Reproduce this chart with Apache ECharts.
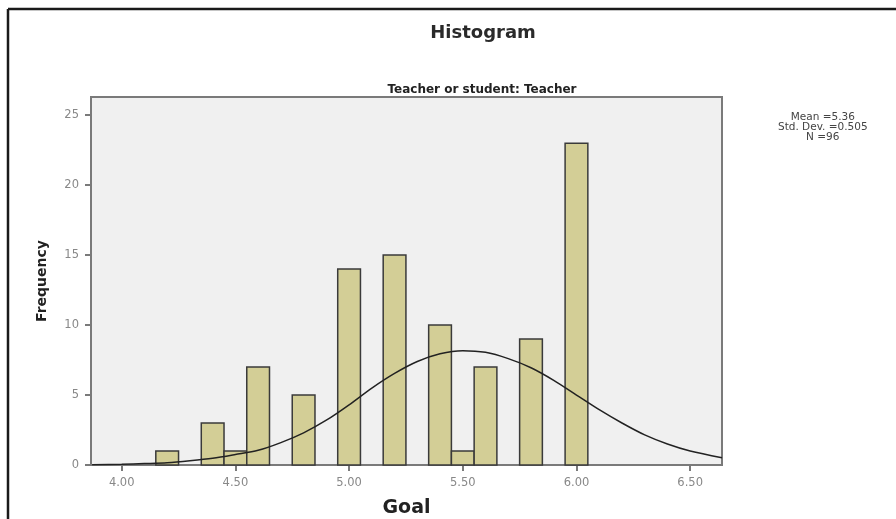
<!DOCTYPE html>
<html>
<head>
<meta charset="utf-8">
<script src="https://cdn.jsdelivr.net/npm/echarts@6/dist/echarts.min.js"></script>
<style>html,body{margin:0;padding:0;background:#fff}#c{width:896px;height:519px}</style>
</head>
<body>
<div id="c"></div>
<script>
// Histogram bins (bin centre on Goal axis) and frequencies
const binCenters = [4.2, 4.4, 4.5, 4.6, 4.8, 5.0, 5.2, 5.4, 5.5, 5.6, 5.8, 6.0];
const frequencies = [1, 3, 1, 7, 5, 14, 15, 10, 1, 7, 9, 23];
const binWidth = 0.1;
// Normal curve
const curveX = [3.87, 4.0, 4.1, 4.2, 4.3, 4.4, 4.5, 4.6, 4.7, 4.8, 4.9, 5.0, 5.1, 5.2, 5.3, 5.4, 5.5, 5.6, 5.7, 5.8, 5.9, 6.0, 6.1, 6.2, 6.3, 6.4, 6.5, 6.64];
const curveY = [0.02, 0.05, 0.1, 0.16, 0.3, 0.48, 0.75, 1.05, 1.6, 2.3, 3.2, 4.3, 5.5, 6.55, 7.4, 7.95, 8.17, 8.05, 7.6, 6.95, 6.05, 5.0, 3.95, 3.0, 2.15, 1.5, 1.0, 0.52];
const xTicks = [4.0, 4.5, 5.0, 5.5, 6.0, 6.5];
const yTicks = [0, 5, 10, 15, 20, 25];
const statsLines = ['Mean =5.36', 'Std. Dev. =0.505', 'N =96'];

const FONT = 'DejaVu Sans';
const chart = echarts.init(document.getElementById('c'), null, {renderer: 'canvas'});
const barData = binCenters.map((x, i) => [x, frequencies[i]]);
const curveData = curveX.map((x, i) => [x, curveY[i]]);

chart.setOption({
  animation: false,
  backgroundColor: '#ffffff',
  title: [
    {text: 'Histogram', left: 478, top: 19, textAlign: 'center',
     textStyle: {fontFamily: FONT, fontSize: 18, fontWeight: 'bold', color: '#2a2a2a'}},
    {text: 'Teacher or student: Teacher', left: 477, top: 79, textAlign: 'center',
     textStyle: {fontFamily: FONT, fontSize: 12, fontWeight: 'bold', color: '#222'}}
  ],
  graphic: [
    {type: 'line', shape: {x1: 8, y1: 9, x2: 8, y2: 519}, style: {stroke: '#1a1a1a', lineWidth: 2.5}},
    {type: 'line', shape: {x1: 8, y1: 9, x2: 896, y2: 9}, style: {stroke: '#1a1a1a', lineWidth: 2.5}},
    {type: 'group', left: 778, top: 112, children: statsLines.map((t, i) => ({
      type: 'text', x: 55, y: i * 10,
      style: {text: t, fill: '#444', font: '10.5px "DejaVu Sans"', textAlign: 'center'}
    }))}
  ],
  grid: {left: 91, top: 97, right: 174, bottom: 54, show: true, containLabel: false,
         outerBoundsMode: 'none',
         backgroundColor: '#f0f0f0', borderColor: '#7a7a7a', borderWidth: 2},
  xAxis: {
    type: 'value', min: 3.865, max: 6.64,
    name: 'Goal', nameLocation: 'middle', nameGap: 34,
    nameTextStyle: {fontFamily: FONT, fontSize: 19, fontWeight: 'bold', color: '#222'},
    axisLine: {show: true, onZero: false, lineStyle: {color: '#7a7a7a', width: 2}},
    axisTick: {show: true, length: 6, customValues: xTicks, lineStyle: {color: '#7a7a7a', width: 2}},
    axisLabel: {customValues: xTicks, margin: 12, color: '#888', fontFamily: FONT, fontSize: 11.5,
                formatter: v => v.toFixed(2)},
    splitLine: {show: false}
  },
  yAxis: {
    type: 'value', min: 0, max: 26.3,
    name: 'Frequency', nameLocation: 'middle', nameGap: 42, nameRotate: 90,
    nameTextStyle: {fontFamily: FONT, fontSize: 14, fontWeight: 'bold', color: '#222'},
    axisLine: {show: true, lineStyle: {color: '#7a7a7a', width: 2}},
    axisTick: {show: true, length: 6, customValues: yTicks, lineStyle: {color: '#7a7a7a', width: 2}},
    axisLabel: {customValues: yTicks, margin: 12, color: '#888', fontFamily: FONT, fontSize: 11.5},
    splitLine: {show: false}
  },
  series: [
    {
      type: 'custom', data: barData, z: 2,
      renderItem: function (params, api) {
        const x = api.value(0), y = api.value(1);
        const p0 = api.coord([x - binWidth / 2, y]);
        const p1 = api.coord([x + binWidth / 2, 0]);
        return {type: 'rect',
          shape: {x: p0[0], y: p0[1], width: p1[0] - p0[0], height: p1[1] - p0[1]},
          style: {fill: '#d3ce96', stroke: '#3a3a3a', lineWidth: 1.5}};
      }
    },
    {
      type: 'line', data: curveData, smooth: 0.3, symbol: 'none', z: 3,
      lineStyle: {color: '#222', width: 1.5}
    }
  ]
});
</script>
</body>
</html>
